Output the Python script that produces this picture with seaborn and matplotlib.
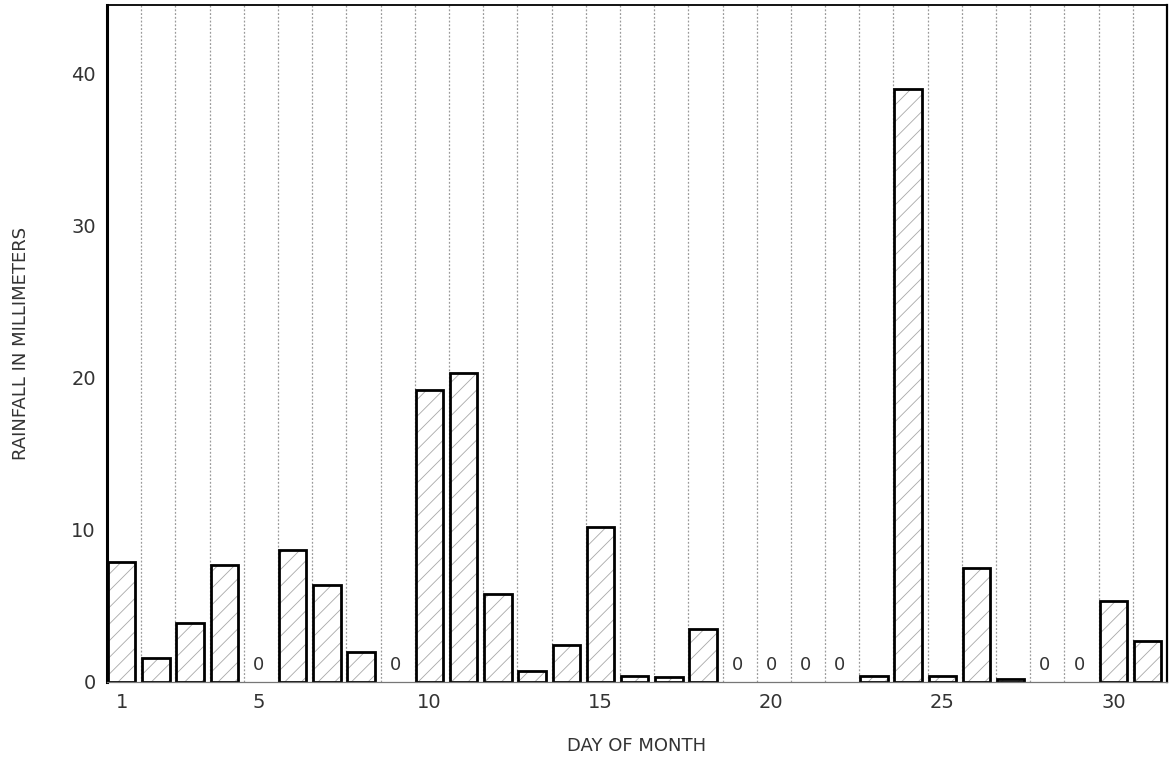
import matplotlib
matplotlib.use("Agg")
import matplotlib.pyplot as plt
import seaborn as sns
import pandas as pd

# Daily rainfall for one month (mm)
days = list(range(1, 32))
rainfall = [7.9, 1.6, 3.9, 7.7, 0.0, 8.7, 6.4, 2.0, 0.0, 19.2,
            20.3, 5.8, 0.7, 2.4, 10.2, 0.4, 0.3, 3.5, 0.0, 0.0,
            0.0, 0.0, 0.4, 39.0, 0.4, 7.5, 0.2, 0.0, 0.0, 5.3,
            2.7]
tick_days = [1, 5, 10, 15, 20, 25, 30]
y_ticks = [0, 10, 20, 30, 40]

sns.set_theme(style="white")
plt.rcParams["font.family"] = ["DejaVu Sans"]
plt.rcParams["hatch.linewidth"] = 0.6

df = pd.DataFrame({"day": [str(d) for d in days], "rain": rainfall})

fig = plt.figure(figsize=(11.75, 7.62), dpi=100)
ax = fig.add_axes([0.0911, 0.105, 0.9021, 0.8884])

# Light grey hatched fill
sns.barplot(data=df, x="day", y="rain", order=df["day"], color="white",
            edgecolor="#a8a8a8", linewidth=0, width=0.8, saturation=1,
            errorbar=None, ax=ax)
n_fill = len(ax.patches)
for p in ax.patches:
    p.set_hatch("//")
    p.set_edgecolor("#a8a8a8")
    p.set_linewidth(0)

# Bold black outlines on top
sns.barplot(data=df, x="day", y="rain", order=df["day"], fill=False,
            edgecolor="black", linewidth=2.0, width=0.8,
            errorbar=None, ax=ax)
for p in ax.patches:
    if p.get_height() == 0:
        p.set_visible(False)
for p in ax.patches[n_fill:]:
    p.set_edgecolor("black")
    p.set_linewidth(2.0)

# Column separators between days
left_edge = -0.43
for k in range(len(days) + 1):
    ax.axvline(left_edge + k, color="#9a9a9a", lw=0.9, ls=(0, (1.5, 1.5)), zorder=0.5)

# Days without rain are marked with a zero
for i, v in enumerate(rainfall):
    if v == 0:
        ax.text(i, 1.1, "0", ha="center", va="center", fontsize=13, color="#333333")

ax.set_xlim(left_edge, left_edge + len(days))
ax.set_ylim(0, 44.5)
ax.set_xticks([d - 1 for d in tick_days])
ax.set_xticklabels([str(d) for d in tick_days], fontsize=14)
ax.set_yticks(y_ticks)
ax.set_yticklabels([str(t) for t in y_ticks], fontsize=14)
ax.tick_params(axis="x", length=0, pad=8, colors="#333333")
ax.tick_params(axis="y", length=3, direction="in", pad=8, colors="#333333")

ax.set_xlabel("DAY OF MONTH", fontsize=13, labelpad=18, color="#333333")
ax.set_ylabel("RAINFALL IN MILLIMETERS", fontsize=13, labelpad=30, color="#333333")

for side, lw, col in [("left", 2.2, "black"), ("right", 1.6, "black"),
                      ("top", 1.3, "black"), ("bottom", 0.9, "#777777")]:
    ax.spines[side].set_visible(True)
    ax.spines[side].set_linewidth(lw)
    ax.spines[side].set_color(col)

fig.savefig("out.png", dpi=100)
